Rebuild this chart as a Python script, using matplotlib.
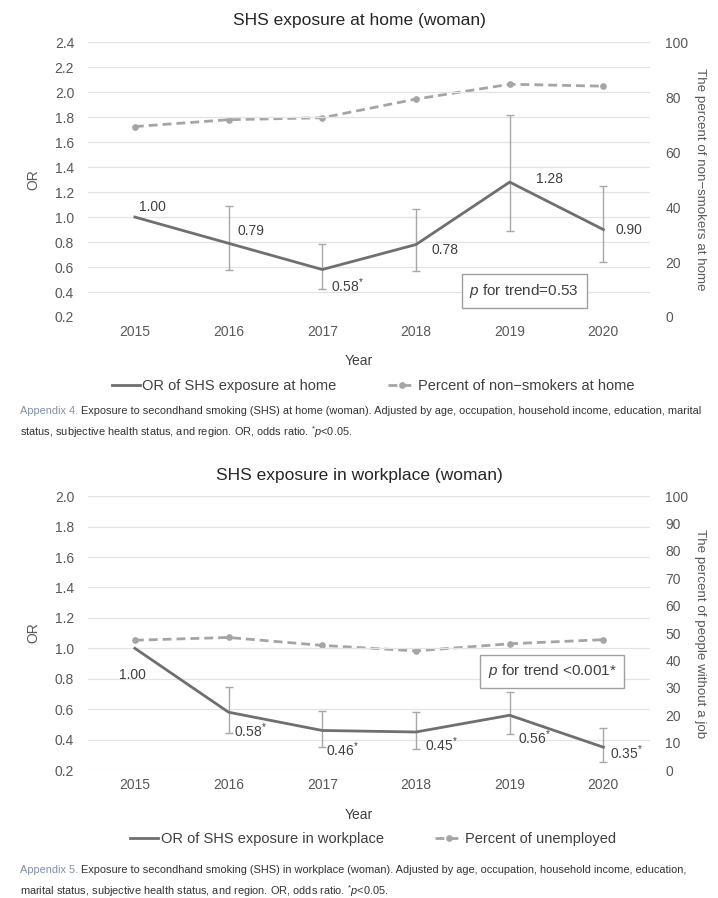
import numpy as np
import matplotlib
matplotlib.use("Agg")
import matplotlib.pyplot as plt

plt.rcParams['font.family'] = ['Liberation Sans', 'DejaVu Sans']
plt.rcParams['mathtext.fontset'] = 'custom'
plt.rcParams['mathtext.it'] = 'Liberation Sans:italic'
plt.rcParams['mathtext.rm'] = 'Liberation Sans'

years = ["2015", "2016", "2017", "2018", "2019", "2020"]

# home (woman)
home_or = [1.00, 0.79, 0.58, 0.78, 1.28, 0.90]
home_lo = [1.00, 0.576, 0.426, 0.571, 0.892, 0.642]
home_hi = [1.00, 1.087, 0.787, 1.066, 1.816, 1.247]
home_labels = ["1.00", "0.79", "0.58$^{*}$", "0.78", "1.28", "0.90"]
home_pct = [69.3, 71.8, 72.5, 79.3, 84.7, 84.0]

# workplace (woman)
work_or = [1.00, 0.58, 0.46, 0.45, 0.56, 0.35]
work_lo = [1.00, 0.443, 0.354, 0.339, 0.435, 0.252]
work_hi = [1.00, 0.748, 0.589, 0.580, 0.715, 0.476]
work_labels = ["1.00", "0.58$^{*}$", "0.46$^{*}$", "0.45$^{*}$", "0.56$^{*}$", "0.35$^{*}$"]
work_pct = [47.4, 48.4, 45.5, 43.5, 46.1, 47.6]

or_col = "#6f6f6f"
pct_col = "#a5a5a5"
err_col = "#a8a8a8"
txt_col = "#404040"
tick_col = "#595959"

fig = plt.figure(figsize=(7.18, 8.98), dpi=100)


def panel(rect, title, orv, lo, hi, labels, offsets, pct, ylim, yticks, rticks,
          rlabel, ptext, pbox, leg_names, ytitle, yyear, yleg):
    ax = fig.add_axes(rect)
    x = np.arange(len(years))
    ax.set_xlim(-0.5, len(years) - 0.5)
    ax.set_ylim(*ylim)
    ax.set_yticks(yticks)
    ax.set_yticklabels(["%.1f" % t for t in yticks])
    ax.set_xticks(x)
    ax.set_xticklabels(years)
    ax.grid(axis="y", color="#e3e3e3", lw=0.9)
    ax.set_axisbelow(True)
    for s in ax.spines.values():
        s.set_visible(False)
    ax.tick_params(axis="y", length=0, labelsize=10, colors=tick_col, pad=10)
    ax.tick_params(axis="x", length=0, labelsize=10, colors=tick_col, pad=6)
    ax.set_ylabel("OR", fontsize=10, color=tick_col, va="center")
    ax.yaxis.set_label_coords(-0.098, 0.5)

    ax2 = ax.twinx()
    ax2.set_ylim(0, 100)
    ax2.set_yticks(rticks)
    for s in ax2.spines.values():
        s.set_visible(False)
    ax2.tick_params(length=0, labelsize=10, colors=tick_col, pad=11)
    ax2.set_ylabel(rlabel, fontsize=9.6, color=tick_col, rotation=270, va="center")
    ax2.yaxis.set_label_coords(1.089, 0.5)
    p2, = ax2.plot(x, pct, color=pct_col, ls=(0, (3.2, 1.8)), lw=2,
                   marker="o", ms=3.8, mfc=pct_col, mec=pct_col)

    ax.set_zorder(ax2.get_zorder() + 1)
    ax.patch.set_visible(False)
    ax2.grid(False)

    yerr = [np.array(orv) - np.array(lo), np.array(hi) - np.array(orv)]
    ax.errorbar(x[1:], orv[1:], yerr=[yerr[0][1:], yerr[1][1:]], fmt="none",
                ecolor=err_col, elinewidth=1, capsize=3, capthick=1)
    p1, = ax.plot(x, orv, color=or_col, lw=2)
    for i, (v, lab) in enumerate(zip(orv, labels)):
        dx, dy, ha = offsets[i]
        ax.annotate(lab, (x[i], v), xytext=(dx, dy), textcoords="offset points",
                    ha=ha, va="center", fontsize=10, color=txt_col)

    ax.text(pbox[0], pbox[1], ptext, transform=ax.transAxes, fontsize=11,
            color=txt_col, ha="center", va="center",
            bbox=dict(boxstyle="square,pad=0.5", fc="white", ec="#a0a0a0", lw=1))

    fig.text(0.5, ytitle, title, ha="center", va="top", fontsize=12.5, color="#262626")
    fig.text(0.5, yyear, "Year", ha="center", va="top", fontsize=10, color=txt_col)
    fig.legend([p1, p2], leg_names, loc="upper center", bbox_to_anchor=(0.52, yleg),
               ncol=2, frameon=False, fontsize=10.5, handlelength=1.9,
               columnspacing=3.5, handletextpad=0.2, labelcolor=txt_col)
    return ax


home_off = [(3, 7, "left"), (6.5, 8.5, "left"), (6.5, -11.5, "left"),
            (11.5, -4, "left"), (19, 2, "left"), (9, 0, "left")]
panel([0.1226, 0.647, 0.783, 0.306], "SHS exposure at home (woman)",
      home_or, home_lo, home_hi, home_labels, home_off, home_pct,
      (0.2, 2.4), np.arange(0.2, 2.41, 0.2), np.arange(0, 101, 20),
      "The percent of non\u2212smokers at home", "$p$ for trend=0.53",
      (0.776, 0.0945), ["OR of SHS exposure at home", "Percent of non\u2212smokers at home"],
      0.985, 0.606, 0.593)

work_off = [(-2, -19, "center"), (4, -13, "left"), (3, -14, "left"),
            (6.5, -9, "left"), (6, -16.5, "left"), (5, -3.6, "left")]
panel([0.1226, 0.1425, 0.783, 0.305], "SHS exposure in workplace (woman)",
      work_or, work_lo, work_hi, work_labels, work_off, work_pct,
      (0.2, 2.0), np.arange(0.2, 2.01, 0.2), np.arange(0, 101, 10),
      "The percent of people without a job", "$p$ for trend <0.001*",
      (0.826, 0.361), ["OR of SHS exposure in workplace", "Percent of unemployed"],
      0.479, 0.1, 0.088)


def caption(y1, num, line1, line2):
    t = fig.text(0.028, y1, "Appendix %d." % num, fontsize=7.9, color="#8090a6",
                 ha="left", va="top")
    plt.annotate(" " + line1, xy=(1, 0), xycoords=t, fontsize=7.9, color="#333333",
                 ha="left", va="bottom", annotation_clip=False)
    fig.text(0.028, y1 - 0.02, line2, fontsize=7.9, color="#333333", ha="left", va="top")


caption(0.548, 4, "Exposure to secondhand smoking (SHS) at home (woman). Adjusted by age, occupation, household income, education, marital",
        "status, subjective health status, and region. OR, odds ratio. $^{*}$$p$<0.05.")
caption(0.0365, 5, "Exposure to secondhand smoking (SHS) in workplace (woman). Adjusted by age, occupation, household income, education,",
        "marital status, subjective health status, and region. OR, odds ratio. $^{*}$$p$<0.05.")

fig.savefig("out.png", dpi=100)
